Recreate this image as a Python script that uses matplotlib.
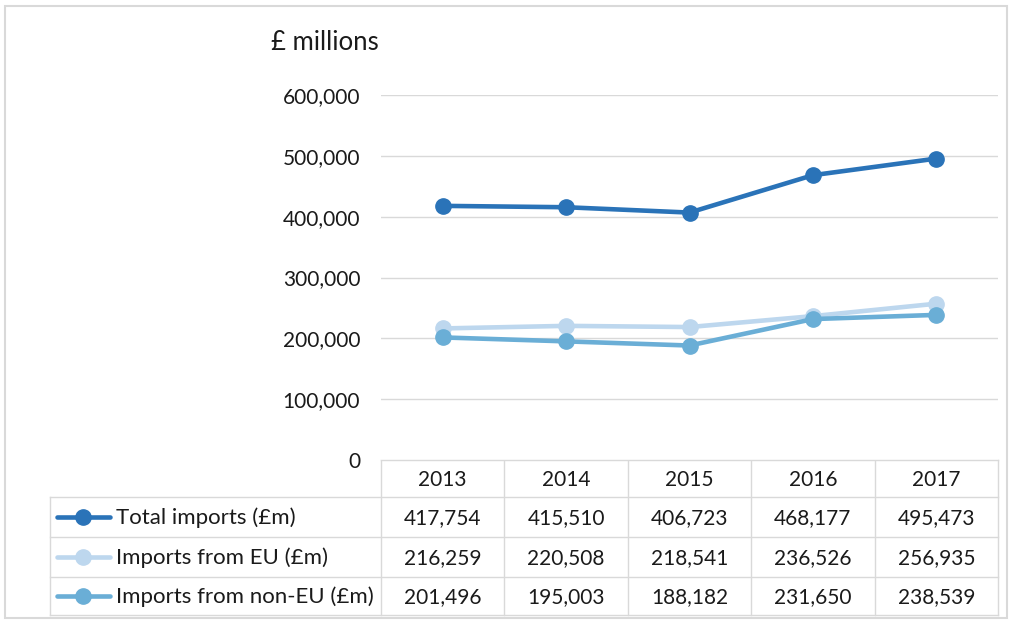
import matplotlib.pyplot as plt
from matplotlib.patches import Rectangle

plt.rcParams['font.family'] = ['Lato', 'DejaVu Sans']

years = ['2013', '2014', '2015', '2016', '2017']
series_names = ['Total imports (£m)', 'Imports from EU (£m)', 'Imports from non-EU (£m)']
total = [417754, 415510, 406723, 468177, 495473]
eu = [216259, 220508, 218541, 236526, 256935]
non_eu = [201496, 195003, 188182, 231650, 238539]
colors = ['#2A73B8', '#BDD7EE', '#6AAED6']
yticks = [0, 100000, 200000, 300000, 400000, 500000, 600000]

W, H = 1013, 624
fig = plt.figure(figsize=(W / 100, H / 100), dpi=100)

# pixel layout
px_left, px_right, px_top, px_bottom = 381, 998, 95, 460
row_edges = [460, 497, 537, 577, 615]
tab_left = 50
grid_col = '#d9d9d9'
txt_col = '#1a1a1a'
fs = 15

# background axes in pixel coords for frame and table
bg = fig.add_axes([0, 0, 1, 1])
bg.set_xlim(0, W)
bg.set_ylim(H, 0)
bg.axis('off')
bg.add_patch(Rectangle((5, 6), 1002, 612, fill=False, edgecolor='#d9d9d9', lw=1.5))

ax = fig.add_axes([px_left / W, 1 - px_bottom / H, (px_right - px_left) / W, (px_bottom - px_top) / H])
x = range(len(years))
for vals, c in zip([total, eu, non_eu], colors):
    ax.plot(x, vals, color=c, lw=3.3, marker='o', ms=11, zorder=3)
ax.set_xlim(-0.5, len(years) - 0.5)
ax.set_ylim(0, 600000)
ax.set_yticks(yticks)
ax.set_yticklabels([f'{v:,}' for v in yticks], fontsize=fs, color=txt_col)
ax.tick_params(axis='y', length=0, pad=15)
ax.set_xticks([])
ax.grid(axis='y', color=grid_col, lw=1)
ax.set_axisbelow(True)
for s in ax.spines.values():
    s.set_visible(False)
ax.text(-0.004, 1.145, '£ millions', transform=ax.transAxes, fontsize=18.5, ha='right', va='center', color=txt_col)

# data table
col_w = (px_right - px_left) / len(years)
lc = grid_col
# vertical lines
for i in range(len(years) + 1):
    xv = px_left + i * col_w
    bg.plot([xv, xv], [row_edges[0], row_edges[-1]], color=lc, lw=1)
bg.plot([tab_left, tab_left], [row_edges[1], row_edges[-1]], color=lc, lw=1)
# horizontal lines
bg.plot([px_left, px_right], [row_edges[0], row_edges[0]], color=lc, lw=1)
for yv in row_edges[1:]:
    bg.plot([tab_left, px_right], [yv, yv], color=lc, lw=1)

for i, yr in enumerate(years):
    bg.text(px_left + (i + 0.5) * col_w, (row_edges[0] + row_edges[1]) / 2 + 1, yr,
            ha='center', va='center', fontsize=fs, color=txt_col)

for r, (name, vals, c) in enumerate(zip(series_names, [total, eu, non_eu], colors)):
    yc = (row_edges[r + 1] + row_edges[r + 2]) / 2
    bg.plot([57, 110], [yc, yc], color=c, lw=3.3, solid_capstyle='round')
    bg.plot([83], [yc], marker='o', color=c, ms=11)
    bg.text(116, yc + 1, name, ha='left', va='center', fontsize=16, color=txt_col)
    for i, v in enumerate(vals):
        bg.text(px_left + (i + 0.5) * col_w, yc + 1, f'{v:,}', ha='center', va='center',
                fontsize=fs, color=txt_col)

fig.savefig('out.png', dpi=100)
